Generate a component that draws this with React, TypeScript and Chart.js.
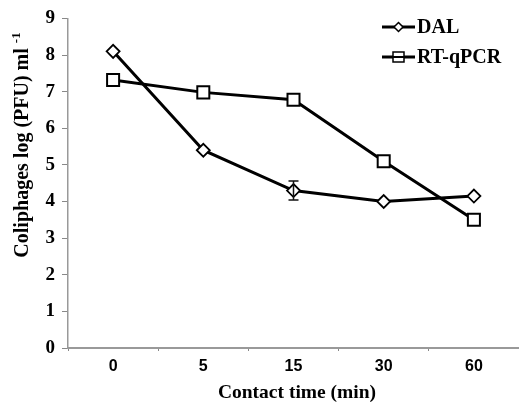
import React, { useEffect, useRef } from "react";
import { Chart, registerables } from "chart.js";

Chart.register(...registerables);

const categories = ["0", "5", "15", "30", "60"];
const dalValues = [8.1, 5.4, 4.3, 4.0, 4.15];
const dalErrors = [0, 0, 0.26, 0, 0];
const rtqpcrValues = [7.32, 6.98, 6.78, 5.1, 3.5];
const yTitle = "Coliphages log (PFU) ml";
const yTitleSup = "-1";
const xTitle = "Contact time (min)";

const SERIF = "'Liberation Serif', 'Times New Roman', serif";
const SANS = "'Liberation Sans', Arial, sans-serif";

export default function App() {
  const ref = useRef<HTMLCanvasElement | null>(null);

  useEffect(() => {
    document.body.style.margin = "0";
    const canvas = ref.current;
    if (!canvas) return;

    const extras = {
      id: "extras",
      afterDatasetsDraw(chart: any) {
        const ctx = chart.ctx;
        const xs = chart.scales.x;
        const ys = chart.scales.y;
        ctx.save();
        ctx.strokeStyle = "#111";
        ctx.lineWidth = 1.5;
        dalErrors.forEach((e, i) => {
          if (!e) return;
          const x = xs.getPixelForValue(i);
          const y1 = ys.getPixelForValue(dalValues[i] + e);
          const y2 = ys.getPixelForValue(dalValues[i] - e);
          ctx.beginPath();
          ctx.moveTo(x, y1);
          ctx.lineTo(x, y2);
          ctx.moveTo(x - 5, y1);
          ctx.lineTo(x + 5, y1);
          ctx.moveTo(x - 5, y2);
          ctx.lineTo(x + 5, y2);
          ctx.stroke();
        });
        ctx.restore();
      },
      afterDraw(chart: any) {
        const ctx = chart.ctx;
        ctx.save();
        ctx.fillStyle = "#000";
        ctx.font = `bold 20px ${SERIF}`;
        const mainW = ctx.measureText(yTitle + " ").width;
        ctx.font = `bold 13px ${SERIF}`;
        const supW = ctx.measureText(yTitleSup).width;
        const total = mainW + supW;
        ctx.translate(23, 145);
        ctx.rotate(-Math.PI / 2);
        ctx.textBaseline = "middle";
        ctx.textAlign = "left";
        ctx.font = `bold 20px ${SERIF}`;
        ctx.fillText(yTitle + " ", -total / 2, 0);
        ctx.font = `bold 13px ${SERIF}`;
        ctx.fillText(yTitleSup, -total / 2 + mainW, -6);
        ctx.restore();

        ctx.save();
        ctx.fillStyle = "#000";
        ctx.font = `bold 19.5px ${SERIF}`;
        ctx.textAlign = "center";
        ctx.textBaseline = "middle";
        ctx.fillText(xTitle, 297, 393);
        ctx.restore();

        // legend (DAL first, as in the reference)
        ctx.save();
        const items = [...chart.data.datasets].reverse();
        items.forEach((ds: any, i: number) => {
          const y = 27 + i * 30;
          ctx.strokeStyle = ds.borderColor;
          ctx.lineWidth = 3;
          ctx.beginPath();
          ctx.moveTo(382, y);
          ctx.lineTo(415, y);
          ctx.stroke();
          ctx.fillStyle = "#fff";
          ctx.lineWidth = 1.5;
          ctx.beginPath();
          if (ds.pointStyle === "rectRot") {
            const r = 4.5;
            ctx.moveTo(398.5, y - r);
            ctx.lineTo(398.5 + r, y);
            ctx.lineTo(398.5, y + r);
            ctx.lineTo(398.5 - r, y);
            ctx.closePath();
          } else {
            ctx.rect(393, y - 5, 11, 10);
          }
          ctx.fill();
          ctx.stroke();
          if (ds.pointStyle !== "rectRot") {
            ctx.lineWidth = 2;
            ctx.beginPath();
            ctx.moveTo(393, y);
            ctx.lineTo(404, y);
            ctx.stroke();
          }
          ctx.fillStyle = "#000";
          ctx.font = `bold 20px ${SERIF}`;
          ctx.textAlign = "left";
          ctx.textBaseline = "middle";
          ctx.fillText(ds.label, 417, y + 1);
        });
        ctx.restore();
      },
    };

    const chart = new Chart(canvas, {
      type: "line",
      data: {
        labels: categories,
        datasets: [
          {
            label: "RT-qPCR",
            data: rtqpcrValues,
            borderColor: "#000",
            borderWidth: 3,
            pointStyle: "rect",
            pointRadius: 8.5,
            pointBorderWidth: 2,
            pointBackgroundColor: "#fff",
            pointBorderColor: "#000",
            tension: 0,
          },
          {
            label: "DAL",
            data: dalValues,
            borderColor: "#000",
            borderWidth: 3,
            pointStyle: "rectRot",
            pointRadius: 6.5,
            pointBorderWidth: 1.8,
            pointBackgroundColor: "#fff",
            pointBorderColor: "#000",
            tension: 0,
          },
        ],
      },
      options: {
        animation: false,
        responsive: false,
        devicePixelRatio: 1,
        layout: { autoPadding: false, padding: { top: 13, right: -4, bottom: 0, left: 0 } },
        plugins: {
          legend: { display: false },
          tooltip: { enabled: false },
        },
        scales: {
          x: {
            type: "category",
            offset: true,
            grid: {
              offset: true,
              drawOnChartArea: false,
              drawTicks: true,
              tickLength: 3,
              color: "#888",
            },
            border: { display: true, color: "#999", width: 2 },
            ticks: {
              color: "#000",
              font: { family: SANS, size: 16, weight: "bold" },
              padding: 6,
            },
            afterFit: (s: any) => {
              s.height = 55;
              s.paddingLeft = 0;
              s.paddingRight = 0;
            },
          },
          y: {
            min: 0,
            max: 9,
            ticks: {
              stepSize: 1,
              color: "#000",
              font: { family: SERIF, size: 19, weight: "bold" },
              padding: 7,
            },
            grid: {
              drawOnChartArea: false,
              drawTicks: true,
              tickLength: 6,
              color: "#888",
            },
            border: { display: true, color: "#999", width: 1.5 },
            afterFit: (s: any) => {
              s.width = 68;
            },
          },
        },
      },
      plugins: [extras],
    });

    return () => chart.destroy();
  }, []);

  return (
    <div style={{ width: 519, height: 403 }}>
      <canvas ref={ref} width={519} height={403} style={{ display: "block" }} />
    </div>
  );
}
